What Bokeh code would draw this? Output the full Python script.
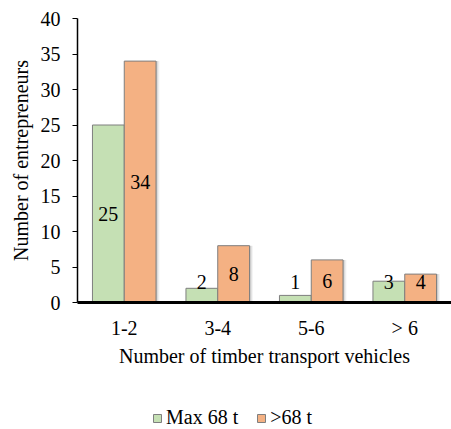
from bokeh.plotting import figure
from bokeh.layouts import column
from bokeh.models import ColumnDataSource, FactorRange, Legend, LegendItem, Range1d, SingleIntervalTicker
from bokeh.transform import dodge
from bokeh.core.properties import value
from bokeh.embed import file_html
from bokeh.resources import INLINE

# Fleet size classes and counts of entrepreneurs per vehicle weight class
categories = ["1-2", "3-4", "5-6", "> 6"]
max68 = [25, 2, 1, 3]
over68 = [34, 8, 6, 4]
series_names = ["Max 68 t", ">68 t"]

GREEN = "#C5E0B4"
ORANGE = "#F4B183"
EDGE = "#7F7F7F"
FONT = "Liberation Serif"
FS = "20px"

# label position: centred in the bar, but never lower than a minimum height
def label_y(vals, floor=2.9):
    return [max(v / 2.0, floor) for v in vals]

src = ColumnDataSource(data=dict(
    cat=categories,
    max68=max68,
    over68=over68,
    max68_txt=[str(v) for v in max68],
    over68_txt=[str(v) for v in over68],
    max68_y=label_y(max68),
    over68_y=label_y(over68),
))

p = figure(
    x_range=FactorRange(*categories, range_padding=0),
    y_range=Range1d(0, 40),
    width=451, height=384,
    output_backend="svg", toolbar_location=None,
    min_border_left=77, min_border_right=0,
    min_border_top=18, min_border_bottom=82,
)
p.outline_line_color = None
p.xgrid.grid_line_color = None
p.ygrid.grid_line_color = None
p.background_fill_color = "white"
p.border_fill_color = "white"

bw = 0.34
off = 0.17

# soft drop shadows behind the bars
for dx, a in [(0.012, 0.10), (0.024, 0.08), (0.036, 0.05)]:
    p.vbar(x=dodge("cat", -off + dx, range=p.x_range), top="max68", width=bw, source=src,
           fill_color="black", fill_alpha=a, line_color=None)
    p.vbar(x=dodge("cat", off + dx, range=p.x_range), top="over68", width=bw, source=src,
           fill_color="black", fill_alpha=a, line_color=None)

p.vbar(x=dodge("cat", -off, range=p.x_range), top="max68", width=bw, source=src,
       fill_color=GREEN, line_color=EDGE, line_width=1)
p.vbar(x=dodge("cat", off, range=p.x_range), top="over68", width=bw, source=src,
       fill_color=ORANGE, line_color=EDGE, line_width=1)

for col_x, col_y, col_t in [(-off, "max68_y", "max68_txt"), (off, "over68_y", "over68_txt")]:
    p.text(x=dodge("cat", col_x, range=p.x_range), y=col_y, text=col_t, source=src,
           text_font=value(FONT), text_font_size=FS, text_color="black",
           text_align="center", text_baseline="middle")

# y axis
p.yaxis.ticker = SingleIntervalTicker(interval=5)
p.yaxis.minor_tick_line_color = None
p.yaxis.major_tick_out = 5
p.yaxis.major_tick_in = 0
p.yaxis.major_tick_line_color = "black"
p.yaxis.axis_line_color = "black"
p.yaxis.axis_line_width = 1.5
p.yaxis.major_label_standoff = 12
p.yaxis.major_label_text_font = FONT
p.yaxis.major_label_text_font_size = FS
p.yaxis.major_label_text_color = "black"
p.yaxis.axis_label = "Number of entrepreneurs"
p.yaxis.axis_label_text_font = FONT
p.yaxis.axis_label_text_font_size = FS
p.yaxis.axis_label_text_font_style = "normal"
p.yaxis.axis_label_text_color = "black"
p.yaxis.axis_label_standoff = 6

# x axis
p.xaxis.major_tick_line_color = None
p.xaxis.minor_tick_line_color = None
p.xaxis.axis_line_color = "black"
p.xaxis.axis_line_width = 3
p.xaxis.major_label_standoff = 8
p.xaxis.major_label_text_font = FONT
p.xaxis.major_label_text_font_size = FS
p.xaxis.major_label_text_color = "black"
p.xaxis.axis_label = "Number of timber transport vehicles"
p.xaxis.axis_label_text_font = FONT
p.xaxis.axis_label_text_font_size = FS
p.xaxis.axis_label_text_font_style = "normal"
p.xaxis.axis_label_text_color = "black"
p.xaxis.axis_label_standoff = 3

# legend strip below the chart; its key renderers sit outside the visible range
lg = figure(
    width=451, height=45, output_backend="svg", toolbar_location=None,
    x_range=Range1d(0, 1), y_range=Range1d(0, 1),
    x_axis_location=None, y_axis_location=None,
    min_border=0, min_border_left=0, min_border_right=0,
    min_border_top=0, min_border_bottom=0,
)
lg.outline_line_color = None
lg.xgrid.visible = False
lg.ygrid.visible = False
lg.background_fill_color = "white"
lg.border_fill_color = "white"
key_src = ColumnDataSource(data=dict(x=[10], top=[20], bottom=[15]))
k1 = lg.vbar(x="x", top="top", bottom="bottom", width=0.1, source=key_src,
             fill_color=GREEN, line_color=EDGE, line_width=1)
k2 = lg.vbar(x="x", top="top", bottom="bottom", width=0.1, source=key_src,
             fill_color=ORANGE, line_color=EDGE, line_width=1)

legend = Legend(
    items=[LegendItem(label=series_names[0], renderers=[k1]),
           LegendItem(label=series_names[1], renderers=[k2])],
    location=(75, 0), orientation="horizontal",
    label_text_font=FONT, label_text_font_size=FS, label_text_color="black",
    glyph_width=10, glyph_height=10, label_standoff=4, spacing=18,
    padding=0, margin=0, border_line_color=None, background_fill_alpha=0,
)
lg.add_layout(legend, "center")

page = column(p, lg, spacing=0)
open("out.html", "w").write(file_html(page, INLINE))
